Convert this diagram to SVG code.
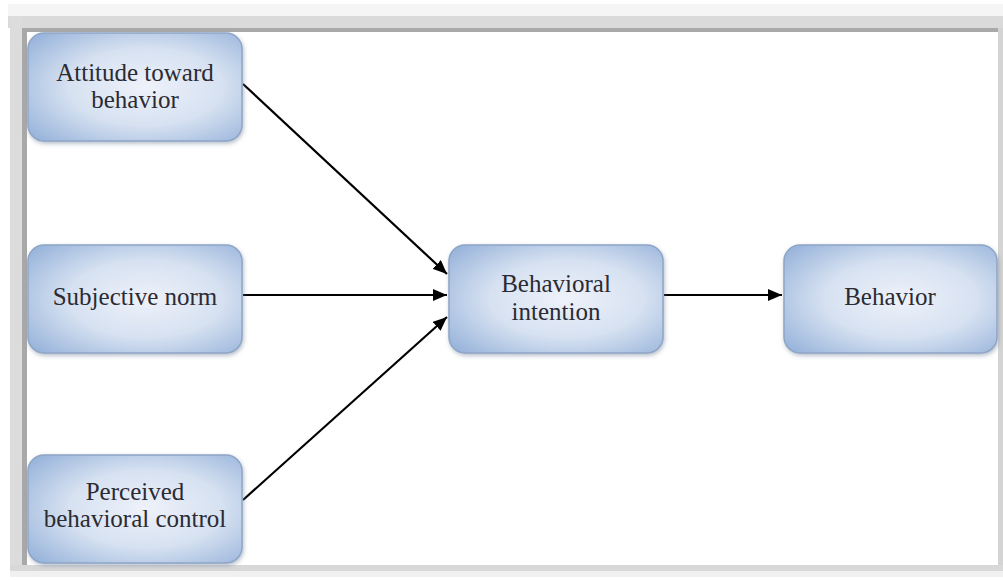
<svg xmlns="http://www.w3.org/2000/svg" width="1003" height="580" viewBox="0 0 1003 580">
<defs>
<radialGradient id="g" cx="0.55" cy="0.5" r="0.72">
<stop offset="0" stop-color="#eef2fa"/>
<stop offset="0.5" stop-color="#d6e1f1"/>
<stop offset="1" stop-color="#94b1d9"/>
</radialGradient>
<marker id="ah" viewBox="0 0 10 10" refX="10" refY="5" markerWidth="14" markerHeight="12" markerUnits="userSpaceOnUse" orient="auto" preserveAspectRatio="none">
<path d="M0,0 L10,5 L0,10 z" fill="#000"/>
</marker>
<filter id="sh" x="-10%" y="-10%" width="125%" height="130%">
<feDropShadow dx="1" dy="2" stdDeviation="2" flood-color="#6d7f99" flood-opacity="0.5"/>
</filter>
</defs>
<style>
.box{fill:url(#g);stroke:#8ea5c6;stroke-width:1.5;filter:url(#sh)}
.t{font-family:'Liberation Serif',serif;font-size:25px;fill:#2b2b33;text-anchor:middle}
.c{stroke:#000;stroke-width:2.2;fill:none;marker-end:url(#ah)}
</style>
<rect x="0" y="0" width="1003" height="580" fill="#fff"/>
<g id="frame">
<rect x="8" y="4" width="995" height="12" fill="#f5f5f5"/>
<rect x="8" y="16" width="995" height="12" fill="#dadada"/>
<rect x="22" y="28" width="976" height="4" fill="#a9a9a9"/>
<rect x="10" y="16" width="12" height="556" fill="#dcdcdc"/>
<rect x="22" y="28" width="5" height="540" fill="#a9a9a9"/>
<rect x="998" y="28" width="5" height="540" fill="#d4d4d4"/>
<rect x="10" y="565" width="993" height="6" fill="#d8d8d8"/>
<rect x="10" y="571" width="993" height="6" fill="#f0f0f0"/>
</g>
<g id="connectors">
<line class="c" x1="243" y1="84" x2="447" y2="274"/>
<line class="c" x1="243" y1="295" x2="447" y2="295"/>
<line class="c" x1="243" y1="500" x2="447" y2="317"/>
<line class="c" x1="664" y1="295" x2="782" y2="295"/>
</g>
<g id="attitude">
<rect class="box" x="28" y="33" width="214" height="108" rx="16"/>
<text class="t" x="135" y="81">Attitude toward</text>
<text class="t" x="135" y="108">behavior</text>
</g>
<g id="subjective">
<rect class="box" x="28" y="245" width="214" height="108" rx="16"/>
<text class="t" x="135" y="305">Subjective norm</text>
</g>
<g id="perceived">
<rect class="box" x="28" y="455" width="214" height="108" rx="16"/>
<text class="t" x="135" y="500">Perceived</text>
<text class="t" x="135" y="527">behavioral control</text>
</g>
<g id="intention">
<rect class="box" x="449" y="245" width="214" height="108" rx="16"/>
<text class="t" x="556" y="292">Behavioral</text>
<text class="t" x="556" y="320">intention</text>
</g>
<g id="behavior">
<rect class="box" x="784" y="245" width="213" height="108" rx="16"/>
<text class="t" x="890" y="305">Behavior</text>
</g>
</svg>
